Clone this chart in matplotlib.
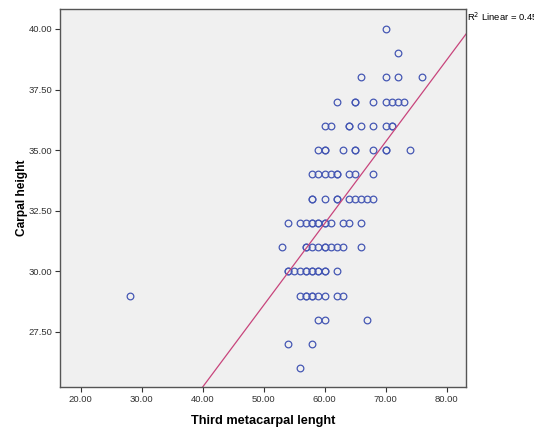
import numpy as np
import matplotlib
matplotlib.use('Agg')
import matplotlib.pyplot as plt

plt.rcParams['font.family'] = ['Liberation Sans', 'DejaVu Sans']

# third metacarpal length grouped by carpal height
rows = {
    40: [70],
    39: [72],
    38: [66, 70, 72, 76],
    37: [62, 65, 65, 68, 70, 71, 72, 73],
    36: [60, 61, 64, 64, 66, 68, 70, 71, 71],
    35: [59, 60, 60, 63, 65, 65, 68, 70, 70, 74],
    34: [58, 59, 60, 61, 62, 62, 64, 65, 68],
    33: [58, 58, 60, 62, 62, 64, 65, 66, 67, 68],
    32: [54, 56, 57, 58, 58, 59, 59, 60, 60, 61, 63, 64, 66],
    31: [53, 57, 57, 58, 59, 60, 60, 61, 62, 63, 66],
    30: [54, 54, 55, 56, 57, 57, 58, 58, 59, 59, 60, 60, 62],
    29: [28, 56, 57, 57, 58, 58, 59, 60, 62, 63],
    28: [59, 60, 67],
    27: [54, 58],
    26: [56],
}
metacarpal = np.array([x for h in rows for x in rows[h]], dtype=float)
carpal = np.array([h for h in rows for x in rows[h]], dtype=float)

# fit line as reported in the chart
fit_slope = 0.337
fit_icpt = 11.75

x_ticks = [20, 30, 40, 50, 60, 70, 80]
y_ticks = [27.5, 30, 32.5, 35, 37.5, 40]
r2_text = 'R$^2$ Linear = 0.45'

fig = plt.figure(figsize=(5.34, 4.30), dpi=100)
ax = fig.add_axes([0.1124, 0.1, 0.7603, 0.879])
ax.set_facecolor('#f0f0f0')

ax.plot(metacarpal, carpal, 'o', mfc='none', mec='#4658b4', ms=4.8, mew=0.9)

xl = np.array([16.6, 83.2])
ax.plot(xl, fit_slope * xl + fit_icpt, color='#c8457c', lw=0.9)

ax.set_xlim(16.6, 83.2)
ax.set_ylim(25.23, 40.82)
ax.set_xticks(x_ticks)
ax.set_xticklabels([f'{v:.2f}' for v in x_ticks])
ax.set_yticks(y_ticks)
ax.set_yticklabels([f'{v:.2f}' for v in y_ticks])
ax.tick_params(labelsize=6.8, length=3.6, width=0.8, colors='#333333', pad=2)
for s in ax.spines.values():
    s.set_color('#555555')
    s.set_linewidth(1.0)

ax.set_xlabel('Third metacarpal lenght', fontsize=9.2, fontweight='bold', labelpad=8)
ax.set_ylabel('Carpal height', fontsize=8.6, fontweight='bold', labelpad=0.5)

fig.text(467 / 534, 1 - 17 / 430, r2_text, fontsize=6.8, va='center', ha='left')

fig.savefig('out.png', dpi=100)
